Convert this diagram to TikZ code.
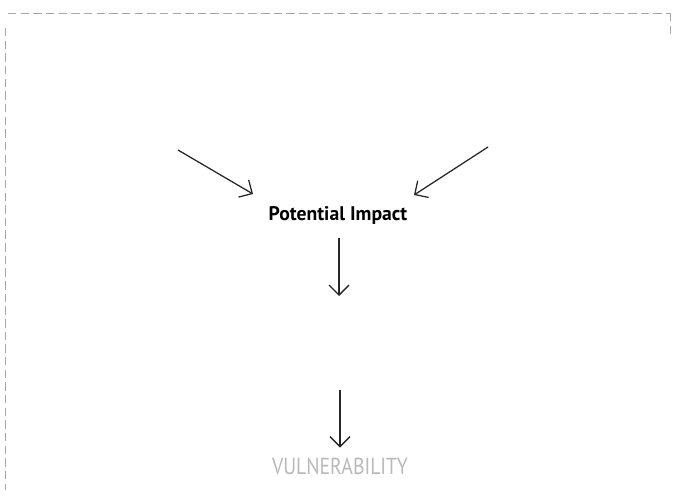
\documentclass[tikz,border=0pt]{standalone}
\usepackage{fontspec}
\setsansfont{PT Sans}
\usetikzlibrary{positioning, arrows.meta}

\begin{document}
\begin{tikzpicture}[
  x=0.025cm, y=-0.025cm,
  >={Straight Barb[length=2.5mm, width=5mm]},
  every node/.style={font=\sffamily},
  flow/.style={->, line width=0.9pt, black!85},
  edge/.style={gray!70, line width=0.5pt, dash pattern=on 6pt off 3pt},
  impact/.style={font=\sffamily\bfseries\fontsize{14}{16}\selectfont, inner sep=2pt},
  vuln/.style={font=\sffamily\fontsize{16.5}{18}\selectfont, text=gray!55, inner sep=2pt}
]
% Page size
\useasboundingbox (0,0) rectangle (674,500);
% Scanned page border
\draw[edge] (8,13) -- (670,13);
\draw[edge] (670,13) -- (670,36);
\draw[edge] (5,28) -- (5,490);

% Main nodes
\node[impact] (impact) at (338,215) {Potential Impact};
\node[vuln] (vuln) at (340,466) {\scalebox{0.85}[1]{VULNERABILITY}};

% Free ends
\coordinate (left) at (178,150);
\coordinate (right) at (488,147);
\coordinate (leftend) at (253,194);
\coordinate (rightend) at (414,195);
\coordinate (mid) at (339,296);
\coordinate (midtop) at (340,390);

% Arrows
\draw[flow] (left) -- (leftend);
\draw[flow] (right) -- (rightend);
\draw[flow, shorten <=8pt] (impact.south -| mid) -- (mid);
\draw[flow, shorten >=5pt] (midtop) -- (vuln);

\end{tikzpicture}
\end{document}
